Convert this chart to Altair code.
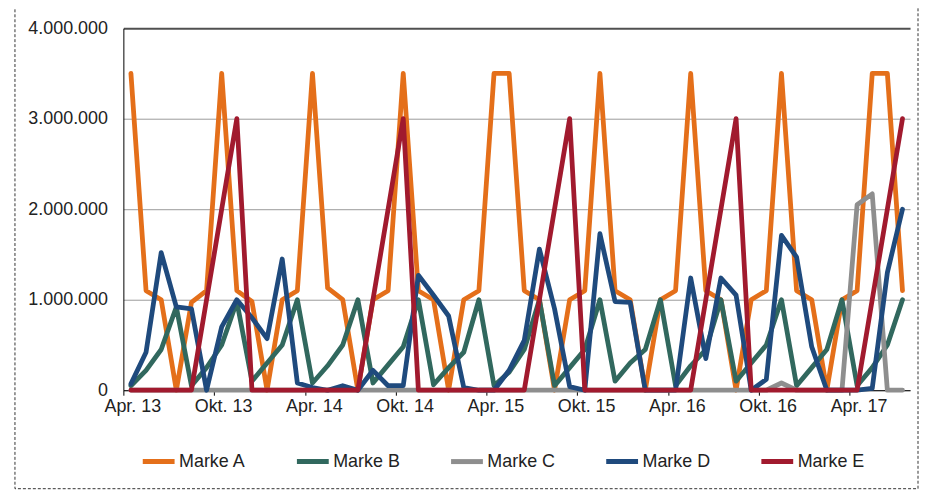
import altair as alt
import pandas as pd

# ---- data (values in millions) ----
monate = [f"{2013 + (3 + i) // 12}-{(3 + i) % 12 + 1:02d}" for i in range(52)]  # Apr 2013 .. Jul 2017
tick_labels = ["Apr. 13", "Okt. 13", "Apr. 14", "Okt. 14", "Apr. 15",
               "Okt. 15", "Apr. 16", "Okt. 16", "Apr. 17"]
marken = ["Marke A", "Marke B", "Marke C", "Marke D", "Marke E"]
farben = ["#E46F1A", "#31685E", "#8E8E8E", "#1F4A7D", "#A11A2E"]

marke_a = [3.5, 1.1, 1.0, 0.0, 0.97, 1.1, 3.5, 1.1, 0.98, 0.0, 1.0, 1.1,
           3.5, 1.13, 1.0, 0.0, 1.0, 1.1, 3.5, 1.1, 1.0, 0.0, 1.0, 1.1,
           3.5, 3.5, 1.1, 1.0, 0.0, 1.0, 1.1, 3.5, 1.1, 1.0, 0.0, 1.0,
           1.1, 3.5, 1.1, 1.0, 0.0, 1.0, 1.1, 3.5, 1.1, 1.0, 0.0, 1.0,
           1.1, 3.5, 3.5, 1.1]
marke_b = [0.05, 0.22, 0.45, 0.92, 0.05, 0.25, 0.5, 0.98, 0.1, 0.3, 0.5, 1.0,
           0.08, 0.27, 0.5, 1.0, 0.08, 0.28, 0.48, 1.0, 0.06, 0.25, 0.42, 1.0,
           0.05, 0.2, 0.45, 1.0, 0.05, 0.25, 0.45, 1.0, 0.1, 0.3, 0.45, 1.0,
           0.05, 0.27, 0.45, 1.0, 0.1, 0.3, 0.5, 1.0, 0.05, 0.25, 0.45, 1.0,
           0.05, 0.25, 0.5, 1.0]
marke_c = [0.0] * 43 + [0.08, 0.0, 0.0, 0.0, 0.0, 2.05, 2.17, 0.0, 0.0]
marke_d = [0.07, 0.42, 1.52, 0.92, 0.9, 0.0, 0.7, 1.0, 0.8, 0.57, 1.45, 0.08,
           0.03, 0.0, 0.05, 0.0, 0.22, 0.05, 0.05, 1.27, 1.05, 0.82, 0.03, 0.0,
           0.0, 0.22, 0.55, 1.56, 0.9, 0.04, 0.0, 1.73, 0.98, 0.97, 0.0, 0.0,
           0.0, 1.24, 0.35, 1.24, 1.05, 0.0, 0.12, 1.71, 1.47, 0.48, 0.0, 0.0,
           0.0, 0.02, 1.3, 2.0]
marke_e = [0.0, 0.0, 0.0, 0.0, 0.0, 1.0, 2.0, 3.0, 0.0, 0.0, 0.0, 0.0,
           0.0, 0.0, 0.0, 0.0, 1.0, 2.0, 3.0, 0.0, 0.0, 0.0, 0.0, 0.0,
           0.0, 0.0, 0.0, 1.0, 2.0, 3.0, 0.0, 0.0, 0.0, 0.0, 0.0, 0.0,
           0.0, 0.0, 1.0, 2.0, 3.0, 0.0, 0.0, 0.0, 0.0, 0.0, 0.0, 0.0,
           0.0, 1.0, 2.0, 3.0]

rows = []
for name, werte in zip(marken, [marke_a, marke_b, marke_c, marke_d, marke_e]):
    for i, (m, v) in enumerate(zip(monate, werte)):
        rows.append({"monat": m, "idx": i, "marke": name, "wert": v * 1_000_000})
df = pd.DataFrame(rows)

FONT = "Liberation Sans"
label_js = "[" + ",".join(f"'{t}'" for t in tick_labels) + "]"

lines = alt.Chart(df).mark_line(
    strokeWidth=4.8, strokeJoin="round", strokeCap="round"
).encode(
    x=alt.X(
        "idx:Q",
        scale=alt.Scale(domain=[-0.5, 51.5], nice=False, zero=False),
        axis=alt.Axis(
            values=[-0.5 + 6 * k for k in range(len(tick_labels))],
            labelExpr=f"{label_js}[round((datum.value + 0.5) / 6)]",
            title=None, grid=False, tickSize=5, tickColor="#000", domainColor="#000",
            labelOffset=9, labelPadding=2, labelFont=FONT, labelFontSize=18,
            labelColor="#222", labelOverlap=False, labelFlush=False,
        ),
    ),
    y=alt.Y(
        "wert:Q",
        scale=alt.Scale(domain=[0, 4000000], nice=False),
        axis=alt.Axis(
            values=[0, 1000000, 2000000, 3000000, 4000000],
            labelExpr="replace(replace(format(datum.value, ','), ',', '.'), ',', '.')",
            title=None, ticks=False, labelPadding=16, domainColor="#000",
            labelFont=FONT, labelFontSize=18, labelColor="#222",
            gridColor={"condition": {"test": "datum.value === 4000000", "value": "#505050"},
                       "value": "#9a9a9a"},
            gridWidth={"condition": {"test": "datum.value === 4000000", "value": 2},
                       "value": 1},
        ),
    ),
    color=alt.Color(
        "marke:N",
        title=None,
        scale=alt.Scale(domain=marken, range=farben),
        legend=alt.Legend(
            orient="none", legendX=17, legendY=417, direction="horizontal",
            symbolType="stroke", symbolStrokeWidth=5, symbolSize=1024,
            labelFont=FONT, labelFontSize=18, labelColor="#222",
            labelOffset=2, columnPadding=40, padding=0,
        ),
    ),
)

frame = alt.Chart(alt.Data(values=[{"f": 1}])).mark_rect(
    filled=False, stroke="#333", strokeDash=[3, 2], strokeWidth=1
).encode(
    x=alt.value(-109), x2=alt.value(799), y=alt.value(-22), y2=alt.value(463)
)

chart = alt.layer(frame, lines).properties(
    width=791, height=364,
    padding={"left": 116, "top": 19, "right": 10, "bottom": 100},
    autosize=alt.AutoSizeParams(type="none"),
).configure_view(strokeWidth=0)

chart.save("out.html", embed_options={"renderer": "svg", "actions": False})
